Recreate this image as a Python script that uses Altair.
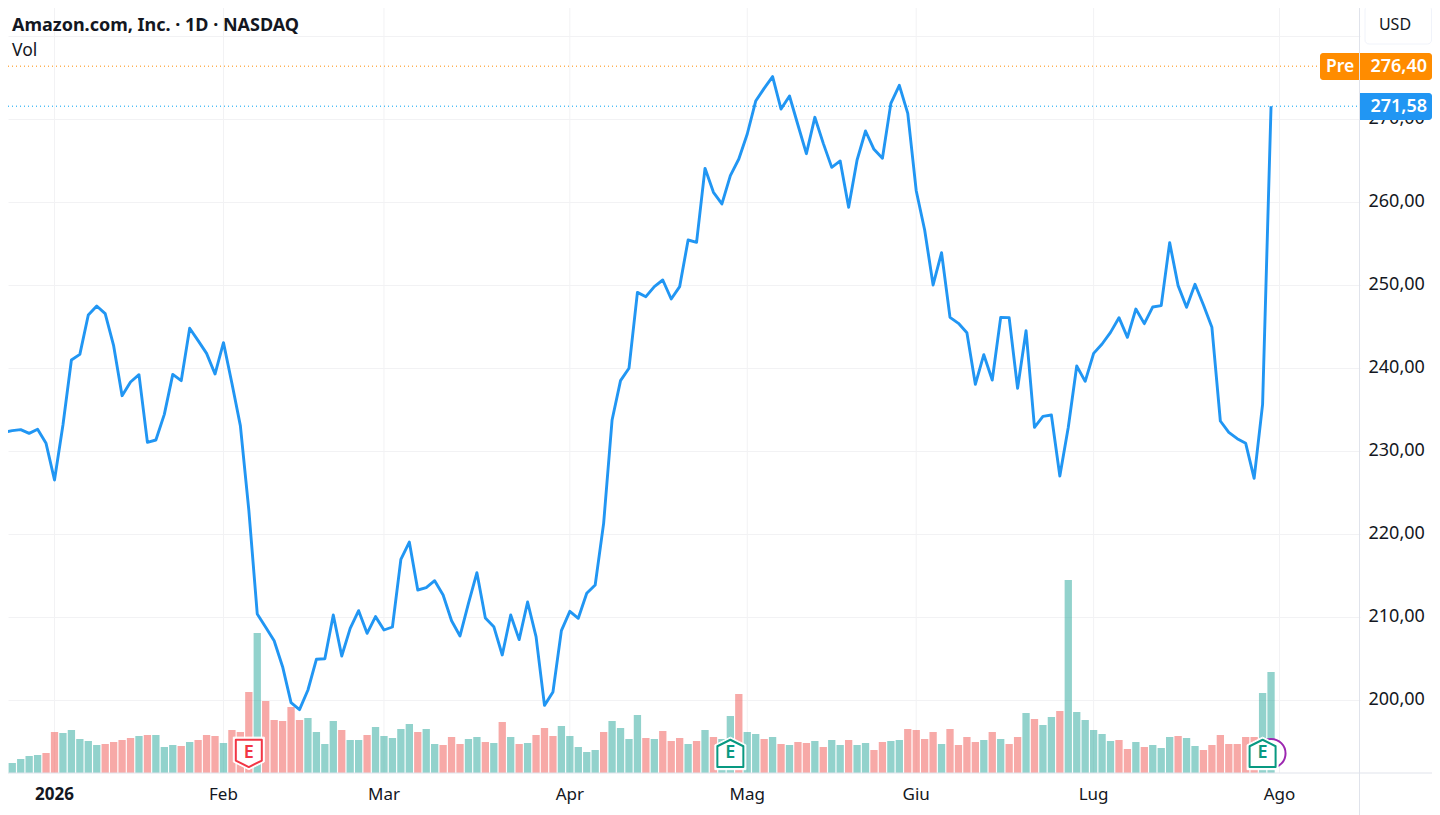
import altair as alt
import pandas as pd

# Daily closes by session number (0 = first session of 2026); first value is session -7
FIRST_CLOSE_SESSION = -7
closes = [
    227.63, 232.29, 232.49, 232.61, 232.16, 232.65, 230.96,
    226.54, 233.17, 241.00, 241.68, 246.42, 247.51, 246.58, 242.73, 236.70, 238.35,
    239.23, 231.08, 231.36, 234.45, 239.27, 238.51, 244.82, 243.33, 241.80, 239.31,
    243.09, 238.19, 233.09, 222.93, 210.40, 208.79, 207.18, 204.05, 199.71, 198.87,
    201.24, 204.94, 205.00, 210.28, 205.34, 208.67, 210.80, 208.07, 210.08, 208.47,
    208.83, 216.98, 219.07, 213.29, 213.57, 214.41, 212.69, 209.59, 207.75, 211.68,
    215.38, 209.92, 208.87, 205.46, 210.28, 207.31, 211.84, 207.67, 199.39, 201.00,
    208.39, 210.72, 209.88, 212.89, 213.89, 221.32, 233.77, 238.51, 240.00, 249.15,
    248.63, 249.84, 250.64, 248.35, 249.84, 255.46, 255.18, 264.09, 261.20, 259.80,
    263.21, 265.22, 268.23, 272.20, 273.73, 275.14, 271.24, 272.81, 269.31, 265.86,
    270.24, 267.10, 264.21, 264.98, 259.39, 265.10, 268.59, 266.38, 265.30, 271.92,
    274.09, 270.72, 261.40, 256.66, 250.04, 253.93, 246.14, 245.42, 244.29, 238.07,
    241.64, 238.59, 246.14, 246.10, 237.59, 244.53, 232.89, 234.21, 234.37, 227.02,
    232.89, 240.28, 238.43, 241.80, 242.93, 244.33, 246.10, 243.73, 247.14, 245.38,
    247.39, 247.55, 255.14, 249.96, 247.35, 250.12, 247.63, 244.94, 233.65, 232.29,
    231.52, 230.96, 226.74, 235.66, 271.58,
]

# Volume (relative units); first value is session -6
FIRST_VOLUME_SESSION = -6
volumes = [
    24, 10, 14, 17, 18, 20, 41, 40, 43, 34,
    32, 28, 29, 31, 33, 35, 37, 38, 38, 26,
    28, 27, 31, 33, 38, 37, 30, 43, 41, 81,
    140, 72, 53, 52, 66, 53, 55, 41, 29, 52,
    43, 33, 33, 38, 46, 37, 35, 44, 49, 41,
    44, 29, 28, 36, 29, 34, 36, 31, 30, 51,
    36, 29, 30, 38, 45, 37, 47, 37, 26, 21,
    23, 41, 52, 45, 34, 58, 35, 34, 42, 32,
    35, 29, 32, 43, 36, 34, 57, 79, 41, 39,
    34, 36, 29, 28, 31, 30, 32, 26, 33, 28,
    33, 28, 30, 23, 31, 32, 33, 44, 43, 34,
    41, 29, 44, 28, 36, 31, 33, 41, 34, 29,
    36, 60, 54, 48, 56, 62, 193, 61, 53, 43,
    39, 32, 33, 24, 31, 26, 28, 25, 36, 37,
    35, 27, 23, 28, 38, 29, 29, 36, 36, 80,
    101,
]
directions = list(
    "gggggrrggg" "ggrrrrgrgg" "grgrrrgrrr" "grrrrrgggg" "rggrgggggr"
    "ggrrrggrgr" "grgrrrgggg" "grggggrgrr" "rgrgrggrgg" "rgrgrrgrgg"
    "rggrrggrrr" "rgrrrrgrgr" "rgrggrgggg" "ggrrgrgggr" "ggrrrrrrrg" "g"
)

month_sessions = [0, 20, 39, 61, 82, 102, 123, 145]
month_labels = ["2026", "Feb", "Mar", "Apr", "Mag", "Giu", "Lug", "Ago"]
month_weights = ["bold", "normal", "normal", "normal", "normal", "normal", "normal", "normal"]
price_ticks = [200, 210, 220, 230, 240, 250, 260, 270, 280]
labelled_top = 270
last_close = 271.58
pre_price = 276.40
earnings_sessions = [23, 80, 143]
earnings_state = ["miss", "beat", "beat"]
next_event_session = 144

FONT = "Noto Sans"
INK = "#131722"
LINE = "#2196F3"
ORANGE = "#FF8C00"
GRID = "#F2F2F4"
EDGE = "#E0E3EB"

W, H = 1352, 765
x_scale = alt.Scale(domain=[-5.504, 154.53], nice=False, zero=False, padding=0)
price_scale = alt.Scale(domain=[191.24, 283.41], nice=False, zero=False)
vol_scale = alt.Scale(domain=[0, 765], nice=False)

close_df = pd.DataFrame({
    "session": list(range(FIRST_CLOSE_SESSION, FIRST_CLOSE_SESSION + len(closes))),
    "close": closes,
})
vol_df = pd.DataFrame({
    "session": list(range(FIRST_VOLUME_SESSION, FIRST_VOLUME_SESSION + len(volumes))),
    "volume": volumes,
    "dir": directions,
})
month_df = pd.DataFrame({"session": month_sessions, "label": month_labels, "weight": month_weights})

y_axis = alt.Axis(
    orient="right",
    values=price_ticks,
    labelExpr=f"datum.value > {labelled_top} ? '' : replace(format(datum.value, '.2f'), '.', ',')",
    grid=True, gridColor=GRID, gridWidth=1,
    ticks=False, domain=False, title=None,
    labelFont=FONT, labelFontSize=18, labelColor=INK, labelPadding=8, labelOffset=-1,
    labelAlign="left", labelOverlap=False, labelFlush=False,
)

X = alt.X("session:Q", scale=x_scale, axis=None)

month_grid = alt.Chart(month_df).mark_rule(color=GRID, strokeWidth=1).encode(
    x=X, y=alt.value(0), y2=alt.value(H))

def month_text(weight):
    return alt.Chart(month_df[month_df.weight == weight]).mark_text(
        font=FONT, fontSize=17, fontWeight=weight, color=INK, align="center", baseline="middle"
    ).encode(x=X, y=alt.value(786.5), text="label:N")

bars = alt.Chart(vol_df).mark_bar(size=7.3, clip=True, opacity=0.5).encode(
    x=X,
    y=alt.Y("volume:Q", scale=vol_scale, axis=None),
    color=alt.Color("dir:N", scale=alt.Scale(domain=["g", "r"], range=["#26A69A", "#EF5350"]), legend=None),
)

line = alt.Chart(close_df).mark_line(color=LINE, strokeWidth=2.9, clip=True, strokeJoin="round").encode(
    x=X,
    y=alt.Y("close:Q", scale=price_scale, axis=y_axis),
)

level_df = pd.DataFrame({"p": [pre_price, last_close], "c": [ORANGE, "#00A2F3"], "end": [1310, 1352]})
def level(i):
    row = level_df.iloc[[i]]
    return alt.Chart(row).mark_rule(color=row.c.iloc[0], strokeWidth=1, strokeDash=[1, 3]).encode(
        y=alt.Y("p:Q", scale=price_scale, axis=None),
        x=alt.value(0), x2=alt.value(int(row.end.iloc[0])),
    )

edge_v = alt.Chart(pd.DataFrame({"a": [0]})).mark_rule(color=EDGE, strokeWidth=1).encode(
    x=alt.value(1351.5), y=alt.value(0), y2=alt.value(807))
edge_h = alt.Chart(pd.DataFrame({"a": [0]})).mark_rule(color=EDGE, strokeWidth=1).encode(
    y=alt.value(765), x=alt.value(0), x2=alt.value(1424))

# Event markers
DOWN = "M-1,-1.05L1,-1.05L1,0.55L0,1.05L-1,0.55Z"
UP = "M0,-1.05L1,-0.55L1,1.05L-1,1.05L-1,-0.55Z"
RED, GREEN = "#F23645", "#089981"
BADGE_Y = 745.4

next_event = alt.Chart(pd.DataFrame({"session": [next_event_session]})).mark_point(
    shape="circle", size=841, filled=True, fill="white", stroke="#9C27B0", strokeWidth=2, opacity=1
).encode(x=X, y=alt.value(BADGE_Y))

def badge(session, state):
    shape, col = (DOWN, RED) if state == "miss" else (UP, GREEN)
    df = pd.DataFrame({"session": [session], "t": ["E"]})
    halo = alt.Chart(df).mark_point(shape=shape, size=31 ** 2, filled=True, fill="white",
                                    stroke="white", strokeWidth=1, opacity=1).encode(x=X, y=alt.value(BADGE_Y))
    body = alt.Chart(df).mark_point(shape=shape, size=26 ** 2, filled=True, fill="white",
                                    stroke=col, strokeWidth=2, strokeJoin="round", opacity=1
                                    ).encode(x=X, y=alt.value(BADGE_Y))
    txt = alt.Chart(df).mark_text(font=FONT, fontSize=18, fontWeight=600, color=col, baseline="middle",
                                  align="center").encode(x=X, y=alt.value(BADGE_Y), text="t:N")
    return [halo, body, txt]

badges = []
for s, st in zip(earnings_sessions, earnings_state):
    badges += badge(s, st)

# Right-hand price tags and header texts
def box(x0, x1, y0, y1, fill, stroke=None, **kw):
    props = dict(fill=fill, **kw)
    if stroke:
        props.update(stroke=stroke, strokeWidth=1)
    return alt.Chart(pd.DataFrame({"a": [0]})).mark_rect(**props).encode(
        x=alt.value(x0), x2=alt.value(x1), y=alt.value(y0), y2=alt.value(y1))

def label(text, x, y, size=17, weight="normal", color=INK, align="left"):
    return alt.Chart(pd.DataFrame({"t": [text]})).mark_text(
        font=FONT, fontSize=size, fontWeight=weight, color=color, align=align, baseline="middle"
    ).encode(x=alt.value(x), y=alt.value(y), text="t:N")

def fmt(v):
    return f"{v:.2f}".replace(".", ",")

tags = [
    box(1312, 1351, 45, 72, ORANGE, cornerRadiusTopLeft=3, cornerRadiusBottomLeft=3),
    box(1352, 1424, 45, 72, ORANGE, cornerRadiusTopRight=3, cornerRadiusBottomRight=3),
    box(1352, 1424, 85, 112, LINE, cornerRadiusTopRight=3, cornerRadiusBottomRight=3),
    box(1357, 1423.5, -2, 36, "white", stroke="#F0F3FA", cornerRadius=4),
    label("USD", 1387, 17, size=16, align="center"),
    label("Pre", 1332, 58.5, size=17.5, weight=600, color="white", align="center"),
    label(fmt(pre_price), 1419, 58.5, size=18, weight=600, color="white", align="right"),
    label(fmt(last_close), 1419, 98.5, size=18, weight=600, color="white", align="right"),
    label("Amazon.com, Inc. · 1D · NASDAQ", 4, 17.5, size=18, weight="bold"),
    label("Vol", 4, 43, size=17.5),
]

chart = alt.layer(
    month_grid, bars, level(0), level(1), edge_v, edge_h, line, next_event, *badges, *tags,
    month_text("bold"), month_text("normal"),
).resolve_scale(y="independent").properties(
    width=W, height=H,
    padding={"left": 0, "top": 0, "right": 72, "bottom": 42},
    autosize=alt.AutoSizeParams(type="none"),
    background="white",
).configure_view(stroke=None)

chart.save("out.html", embed_options={"renderer": "svg", "actions": False})
